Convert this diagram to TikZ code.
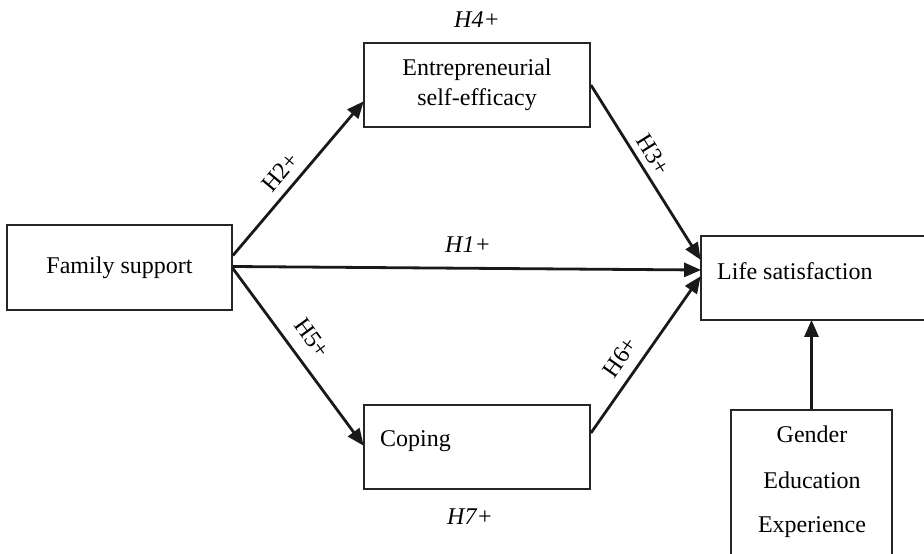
\documentclass[tikz,border=0pt]{standalone}
\usepackage{fontspec}
\setmainfont{Liberation Serif}
\usetikzlibrary{arrows.meta,calc}
\begin{document}
\begin{tikzpicture}[x=1pt,y=-1pt,
  box/.style={draw=black!85,line width=1.8pt,rectangle,inner sep=0pt,align=center,
    font=\fontsize{24}{29}\selectfont},
  txt/.style={inner sep=0pt,font=\fontsize{24}{29}\selectfont},
  hyp/.style={inner sep=0pt,font=\fontsize{24}{29}\selectfont\itshape},
  rhyp/.style={inner sep=0pt,font=\fontsize{24}{29}\selectfont},
  arr/.style={draw=black!90,line width=2.8pt,-{Triangle[length=17pt,width=14pt]},shorten >=-1pt}]
\useasboundingbox (0,0) rectangle (924,554);
\node[box,minimum width=225pt,minimum height=85pt] (fs) at (119.5,267.5) {Family support};
\node[box,minimum width=226pt,minimum height=84pt] (ese) at (477,85) {Entrepreneurial\\[1pt]self-efficacy};
\node[box,minimum width=226pt,minimum height=84pt] (cop) at (477,447) {};
\node[txt,anchor=west] (coptxt) at (380,441) {Coping};
\node[box,minimum width=225pt,minimum height=84pt] (ls) at (813.5,278) {};
\node[txt,anchor=west] (lstxt) at (717,271) {Life satisfaction};
\node[box,minimum width=161pt,minimum height=170pt] (ctrl) at (811.5,495) {};
\node[txt] (gen) at (812,434) {Gender};
\node[txt] (edu) at (812,480) {Education};
\node[txt] (exp) at (812,527) {Experience};

\draw[arr] ($(fs.east)+(0,-12)$) -- ($(ese.west)+(0,17)$);
\draw[arr] ($(fs.east)+(0,-1)$) -- ($(ls.west)+(0,-8)$);
\draw[arr] (ese.east) -- ($(ls.west)+(0,-19)$);
\draw[arr] ($(fs.east)+(0,1)$) -- ($(cop.west)+(0,-2)$);
\draw[arr] ($(cop.east)+(0,-14)$) -- ($(ls.west)+(0,-1)$);
\draw[arr] (ctrl.north) -- (ctrl.north |- ls.south);

\node[hyp] (h4) at (477,20) {H4+};
\node[hyp] (h1) at (468,245) {H1+};
\node[rhyp,rotate=50] (h2) at (280,172) {H2+};
\node[rhyp,rotate=-58] (h3) at (653,155) {H3+};
\node[rhyp,rotate=-54] (h5) at (312,338) {H5+};
\node[rhyp,rotate=55] (h6) at (620,357) {H6+};
\node[hyp] (h7) at (470,517) {H7+};
\end{tikzpicture}
\end{document}
